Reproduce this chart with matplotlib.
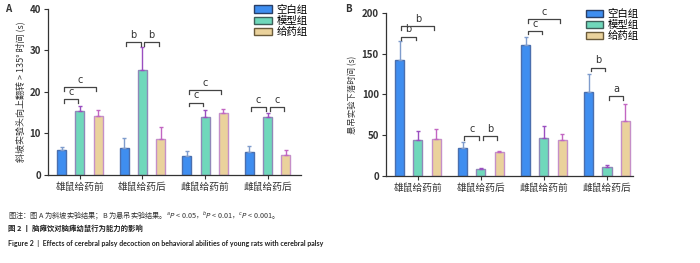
import numpy as np
import matplotlib.pyplot as plt

plt.rcParams['font.family'] = ['Noto Sans CJK SC', 'DejaVu Sans']

groups = ['雄鼠给药前', '雄鼠给药后', '雌鼠给药前', '雌鼠给药后']
series = ['空白组', '模型组', '给药组']

# panel A: slope test
a_mean = [[5.9, 6.4, 4.5, 5.4],
          [15.3, 25.4, 13.9, 13.9],
          [14.3, 8.7, 14.8, 4.8]]
a_err = [[0.8, 2.4, 1.3, 1.6],
         [1.3, 5.4, 1.7, 1.0],
         [1.3, 2.9, 1.1, 1.1]]
# (group, bar1, bar2, height, label)
a_sig = [(0, 0, 1, 18.3, 'c'), (0, 0, 2, 21.1, 'c'),
         (1, 0, 1, 32.0, 'b'), (1, 1, 2, 32.0, 'b'),
         (2, 0, 1, 17.4, 'c'), (2, 0, 2, 20.4, 'c'),
         (3, 0, 1, 16.3, 'c'), (3, 1, 2, 16.3, 'c')]

# panel B: suspension test
b_mean = [[142.5, 34.5, 160, 102.7],
          [44, 8, 47, 11.5],
          [45, 29.6, 44, 67.3]]
b_err = [[22.5, 7.5, 10, 22.3],
         [11, 2, 14, 2],
         [13, 1.4, 7, 21.4]]
b_sig = [(0, 0, 1, 171, 'b'), (0, 0, 2, 184, 'b'),
         (1, 0, 1, 49, 'c'), (1, 1, 2, 49, 'b'),
         (2, 0, 1, 178, 'c'), (2, 0, 2, 192.6, 'c'),
         (3, 0, 1, 133, 'b'), (3, 1, 2, 98, 'a')]

face = ['#3f8ef0', '#6fd8bb', '#ead29c']
edge = ['#4a6fae', '#8f88b8', '#c58fc8']
errc = ['#7f9ccc', '#9a4fc0', '#c266c2']
axc = '#333333'


def panel(ax, means, errs, sigs, ymax, step, xlim, cap, capsize, tick_dy):
    x = np.arange(len(groups))
    off = 0.29
    w = 0.145
    handles = []
    for i in range(3):
        pos = x + (i - 1) * off
        b = ax.bar(pos, means[i], w, color=face[i], edgecolor=edge[i], linewidth=1.0, zorder=2)
        handles.append(b)
        ax.errorbar(pos, means[i], yerr=[np.zeros(4), errs[i]], fmt='none',
                    ecolor=errc[i], elinewidth=1.0, capsize=1.2, capthick=1.0, zorder=3)
    for g, i, j, h, lab in sigs:
        x1 = g + (i - 1) * off + 0.03
        x2 = g + (j - 1) * off - 0.03
        ax.plot([x1, x1, x2, x2], [h - tick_dy, h, h, h - tick_dy], color='#444444', lw=0.9,
                zorder=4, clip_on=False)
        ax.text((x1 + x2) / 2, h + tick_dy * 0.6, lab, ha='center', va='bottom', fontsize=7,
                color='#333333', family='DejaVu Sans')
    ax.set_xlim(*xlim)
    ax.set_ylim(0, ymax)
    ax.set_yticks(np.arange(0, ymax + 1, step))
    ax.set_xticks(x)
    ax.set_xticklabels(groups, fontsize=7)
    ax.tick_params(axis='y', labelsize=7, length=3, width=0.8, colors=axc, pad=2)
    ax.tick_params(axis='x', length=3, width=0.8, colors=axc, pad=2)
    for t in ax.get_yticklabels():
        t.set_fontweight('bold')
    for s in ['top', 'right']:
        ax.spines[s].set_visible(False)
    for s in ['left', 'bottom']:
        ax.spines[s].set_color(axc)
        ax.spines[s].set_linewidth(0.9)
    ax.set_ylabel(cap, fontsize=capsize, color='#333333', labelpad=3)
    leg = ax.legend(handles, series, loc='upper right', bbox_to_anchor=(1.04, 1.05),
                    frameon=False, fontsize=7.5, handlelength=1.7, handleheight=0.75,
                    handletextpad=0.4, labelspacing=0.1, borderaxespad=0)
    for p, ec in zip(leg.get_patches(), ['#2a3f66', '#3f5f5a', '#6a5a3a']):
        p.set_edgecolor(ec)
        p.set_linewidth(1.0)


fig = plt.figure(figsize=(7, 2.63), dpi=100)
axA = fig.add_axes([0.0686, 0.335, 0.362, 0.631])
axB = fig.add_axes([0.551, 0.331, 0.353, 0.620])

panel(axA, a_mean, a_err, a_sig, 40, 10, (-0.51, 3.54),
      '斜坡实验头向上翻转 > 135° 时间 (s)', 6.5, 0.9)
panel(axB, b_mean, b_err, b_sig, 200, 50, (-0.51, 3.41),
      '悬吊实验下落时间 (s)', 6, 4.5)

fig.text(0.007, 0.965, 'A', fontsize=7, fontweight='bold', color='#333333', va='center')
fig.text(0.493, 0.965, 'B', fontsize=7, fontweight='bold', color='#333333', va='center')

fig.text(0.012, 0.179,
         '图注：图 A 为斜坡实验结果；B 为悬吊实验结果。$^{a}$$\\it{P}$ < 0.05，$^{b}$$\\it{P}$ < 0.01，$^{c}$$\\it{P}$ < 0.001。',
         fontsize=5.2, color='#333333', va='center')
fig.text(0.012, 0.133, '图 2 丨 脑瘫饮对脑瘫幼鼠行为能力的影响', fontsize=5.3,
         fontweight='bold', color='#222222', va='center')
fig.text(0.012, 0.076,
         'Figure 2  |  Effects of cerebral palsy decoction on behavioral abilities of young rats with cerebral palsy',
         fontsize=5.0, fontweight='bold', color='#222222', va='center',
         family=['Lato', 'DejaVu Sans'])

fig.savefig('out.png', dpi=100)
